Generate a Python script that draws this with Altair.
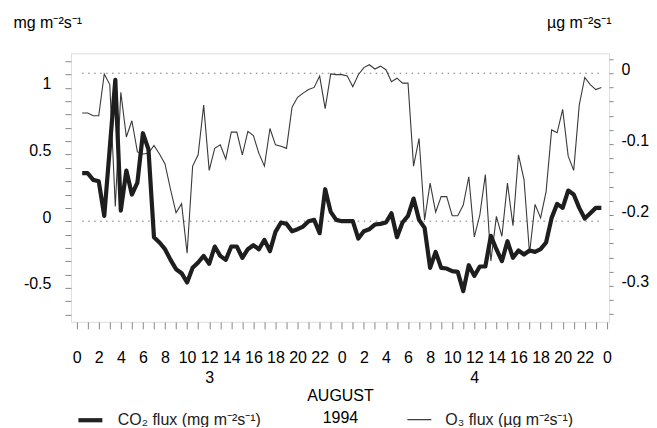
import altair as alt
import pandas as pd

FONT = "Liberation Sans"

# ---------------- data ----------------
co2_hours = [0.5, 1.0, 1.5, 2.0, 2.5, 3.5, 4.0, 4.5, 5.0, 5.5, 6.0, 6.5, 7.0, 7.5, 8.0, 8.5,
             9.0, 9.5, 10.0, 10.5, 11.0, 11.5, 12.0, 12.5, 13.0, 13.5, 14.0, 14.5, 15.0, 15.5,
             16.0, 16.5, 17.0, 17.5, 18.0, 18.5, 19.0, 19.5, 20.0, 20.5, 21.0, 21.5, 22.0, 22.5,
             23.0, 23.5, 24.0, 24.5, 25.0, 25.5, 26.0, 26.5, 27.0, 27.5, 28.0, 28.5, 29.0, 29.5,
             30.0, 30.5, 31.0, 31.5, 32.0, 32.5, 33.0, 33.5, 34.0, 34.5, 35.0, 35.5, 36.0, 36.5,
             37.0, 37.5, 38.0, 38.5, 39.0, 39.5, 40.0, 40.5, 41.0, 41.5, 42.0, 42.5, 43.0, 43.5,
             44.0, 44.5, 45.0, 45.5, 46.0, 46.5, 47.0, 47.5]
co2_flux = [0.36, 0.36, 0.31, 0.30, 0.04, 1.06, 0.08, 0.38, 0.20, 0.29, 0.66, 0.54, -0.12, -0.16, -0.21, -0.29,
            -0.36, -0.39, -0.46, -0.35, -0.31, -0.26, -0.32, -0.19, -0.26, -0.29, -0.19, -0.19, -0.275, -0.21,
            -0.18, -0.21, -0.14, -0.225, -0.08, -0.01, -0.02, -0.075, -0.06, -0.04, 0.0, 0.01, -0.09, 0.24,
            0.07, 0.01, 0.0, 0.0, 0.0, -0.13, -0.075, -0.06, -0.025, -0.02, -0.01, 0.06, -0.12, -0.01,
            0.04, 0.17, 0.01, -0.05, -0.35, -0.23, -0.35, -0.355, -0.375, -0.38, -0.525, -0.33, -0.41, -0.34,
            -0.34, -0.11, -0.21, -0.30, -0.15, -0.275, -0.22, -0.25, -0.22, -0.23, -0.21, -0.16, 0.025, 0.13,
            0.10, 0.23, 0.20, 0.10, 0.02, 0.06, 0.10, 0.10]

o3_hours = [0.5, 1.0, 1.5, 2.0, 2.5, 3.0, 3.5, 4.0, 4.5, 5.0, 5.5, 6.0, 6.5, 7.0, 7.5, 8.0, 8.5,
            9.0, 9.5, 10.0, 10.5, 11.0, 11.5, 12.0, 12.5, 13.0, 13.5, 14.0, 14.5, 15.0, 15.5,
            16.0, 16.5, 17.0, 17.5, 18.0, 18.5, 19.0, 19.5, 20.0, 20.5, 21.0, 21.5, 22.0, 22.5,
            23.0, 23.5, 24.0, 24.5, 25.0, 25.5, 26.0, 26.5, 27.0, 27.5, 28.0, 28.5, 29.0, 29.5,
            30.0, 30.5, 31.0, 31.5, 32.0, 32.5, 33.0, 33.5, 34.0, 34.5, 35.0, 35.5, 36.0, 36.5,
            37.0, 37.5, 38.0, 38.5, 39.0, 39.5, 40.0, 40.5, 41.0, 41.5, 42.0, 42.5, 43.0, 43.5,
            44.0, 44.5, 45.0, 45.5, 46.0, 46.5, 47.0, 47.5]
o3_flux = [-0.056, -0.056, -0.060, -0.060, -0.001, -0.016, -0.188, -0.027, -0.090, -0.067,
           -0.111, -0.114, -0.113, -0.102, -0.114, -0.128, -0.164, -0.197, -0.184, -0.254,
           -0.131, -0.115, -0.045, -0.137, -0.106, -0.101, -0.121, -0.083, -0.083, -0.115,
           -0.082, -0.088, -0.113, -0.131, -0.078, -0.101, -0.103, -0.106, -0.048, -0.034,
           -0.028, -0.023, -0.020, -0.004, -0.050, -0.001, -0.002, -0.002, -0.004, -0.019,
           -0.002, 0.008, 0.012, 0.006, 0.010, 0.005, -0.012, -0.007, -0.014, -0.014,
           -0.131, -0.092, -0.207, -0.155, -0.196, -0.174, -0.174, -0.201, -0.201, -0.186,
           -0.146, -0.231, -0.200, -0.143, -0.265, -0.202, -0.230, -0.155, -0.215, -0.115,
           -0.150, -0.254, -0.185, -0.204, -0.167, -0.080, -0.084, -0.051, -0.117, -0.137,
           -0.045, -0.006, -0.016, -0.023, -0.020]

series_names = ["CO\u2082 flux (mg m\u207b\u00b2s\u207b\u00b9)", "O\u2083 flux (\u00b5g m\u207b\u00b2s\u207b\u00b9)"]

x_tick_hours = [0, 1, 2, 3, 4, 5, 6, 7, 8, 9, 10, 11, 12, 13, 14, 15, 16, 17, 18, 19, 20, 21, 22, 23,
                24, 25, 26, 27, 28, 29, 30, 31, 32, 33, 34, 35, 36, 37, 38, 39, 40, 41, 42, 43, 44,
                45, 46, 47, 48]
day_hours = [12, 36]
day_labels = ["3", "4"]
left_ticks = [-0.7, -0.6, -0.5, -0.4, -0.3, -0.2, -0.1, 0, 0.1, 0.2, 0.3, 0.4, 0.5, 0.6, 0.7,
              0.8, 0.9, 1.0, 1.1, 1.2]
right_ticks = [-0.34, -0.32, -0.3, -0.28, -0.26, -0.24, -0.22, -0.2, -0.18, -0.16, -0.14, -0.12,
               -0.1, -0.08, -0.06, -0.04, -0.02, 0, 0.02]

left_domain = [-0.755, 1.26]
right_domain = [-0.3507, 0.0282]
x_domain = [-0.52, 48.2]

co2_df = pd.DataFrame({"hour": co2_hours, "flux": co2_flux, "series": series_names[0]})
o3_df = pd.DataFrame({"hour": o3_hours, "flux": o3_flux, "series": series_names[1]})
zero_df = pd.DataFrame({"hour": [0.5], "end": [47.5], "level": [0.0]})

# ---------------- encodings ----------------
day_expr = " : ".join(
    f"datum.value == {h} ? ['{h % 24}', '{lab}']" for h, lab in zip(day_hours, day_labels)
)
x_label_expr = f"datum.value % 2 == 0 ? ({day_expr} : '' + (datum.value % 24)) : ''"

x_axis = alt.Axis(
    values=x_tick_hours, labelExpr=x_label_expr, tickSize=7, labelPadding=21,
    labelFontSize=16, labelLineHeight=20, labelOverlap=False, labelFlush=False,
    labelBound=False, grid=False, domain=False,
    title=["AUGUST", "1994"], titleFontSize=16, titleFontWeight="normal",
    titleBaseline="alphabetic", titleY=79, titleLineHeight=22,
)
x_scale = alt.Scale(domain=x_domain, nice=False, zero=False)
x_enc = alt.X("hour:Q", scale=x_scale, axis=x_axis)

left_axis = alt.Axis(
    values=left_ticks, grid=False, domain=False,
    labelExpr="abs(datum.value*2 - round(datum.value*2)) < 0.000001 ? '' + datum.value : ''",
    tickSize=6, labelPadding=14, labelFontSize=16, labelOffset=-4,
    title="mg m\u207b\u00b2s\u207b\u00b9", titleAngle=0, titleAlign="left",
    titleBaseline="alphabetic", titleX=-58, titleY=-26, titleFontSize=16,
    titleFontWeight="normal",
)
right_axis = alt.Axis(
    orient="right", values=right_ticks, grid=False, domain=False,
    labelExpr="abs(datum.value*10 - round(datum.value*10)) < 0.000001 ? '' + datum.value : ''",
    tickSize=4, labelPadding=8, labelFontSize=16, labelOffset=-4,
    title="\u00b5g m\u207b\u00b2s\u207b\u00b9", titleAngle=0, titleAlign="right",
    titleBaseline="alphabetic", titleX=2, titleY=-26, titleFontSize=16,
    titleFontWeight="normal",
)

legend = alt.Legend(
    orient="none", legendX=5, legendY=353, direction="horizontal", title=None,
    symbolType="stroke", symbolSize=576, symbolStrokeColor="#222",
    labelFontSize=16, labelFont=FONT, labelColor="#222", labelOffset=13,
    columnPadding=143, labelLimit=400,
)
stroke_scale = alt.Scale(domain=series_names, range=[4.2, 1.1])

co2_line = alt.Chart(co2_df).mark_line(color="#1e1e1e", strokeJoin="round").encode(
    x=x_enc,
    y=alt.Y("flux:Q", scale=alt.Scale(domain=left_domain, nice=False, zero=False), axis=left_axis),
    strokeWidth=alt.StrokeWidth("series:O", scale=stroke_scale, legend=legend),
)
o3_line = alt.Chart(o3_df).mark_line(color="#3a3a3a").encode(
    x=x_enc,
    y=alt.Y("flux:Q", scale=alt.Scale(domain=right_domain, nice=False, zero=False), axis=right_axis),
    strokeWidth=alt.StrokeWidth("series:O", scale=stroke_scale, legend=legend),
)
co2_zero = alt.Chart(zero_df).mark_rule(color="#777", strokeDash=[1.5, 4.5], strokeWidth=1).encode(
    x=x_enc,
    x2="end:Q",
    y=alt.Y("level:Q", scale=alt.Scale(domain=left_domain, nice=False, zero=False), axis=None),
)
o3_zero = alt.Chart(zero_df).mark_rule(color="#777", strokeDash=[1.5, 4.5], strokeWidth=1).encode(
    x=x_enc,
    x2="end:Q",
    y=alt.Y("level:Q", scale=alt.Scale(domain=right_domain, nice=False, zero=False), axis=None),
)

chart = (
    alt.layer(co2_zero, o3_zero, o3_line, co2_line)
    .resolve_scale(y="independent")
    .properties(
        width=539, height=269,
        autosize=alt.AutoSizeParams(type="none"),
        padding={"left": 63, "top": 45, "right": 40, "bottom": 105},
    )
    .configure_view(stroke="#333", strokeWidth=1.2)
    .configure_axis(
        labelFont=FONT, titleFont=FONT, labelColor="#222", titleColor="#222",
        tickColor="#333", tickWidth=1, domain=False, grid=False,
        labelOverlap=False,
    )
    .configure_legend(
        labelFontSize=16, labelFont=FONT, labelColor="#222", labelLimit=400,
        symbolStrokeColor="#222", labelOffset=13, columnPadding=143,
    )
    .configure(background="white")
)

chart.save("out.html", embed_options={"renderer": "svg", "actions": False})
